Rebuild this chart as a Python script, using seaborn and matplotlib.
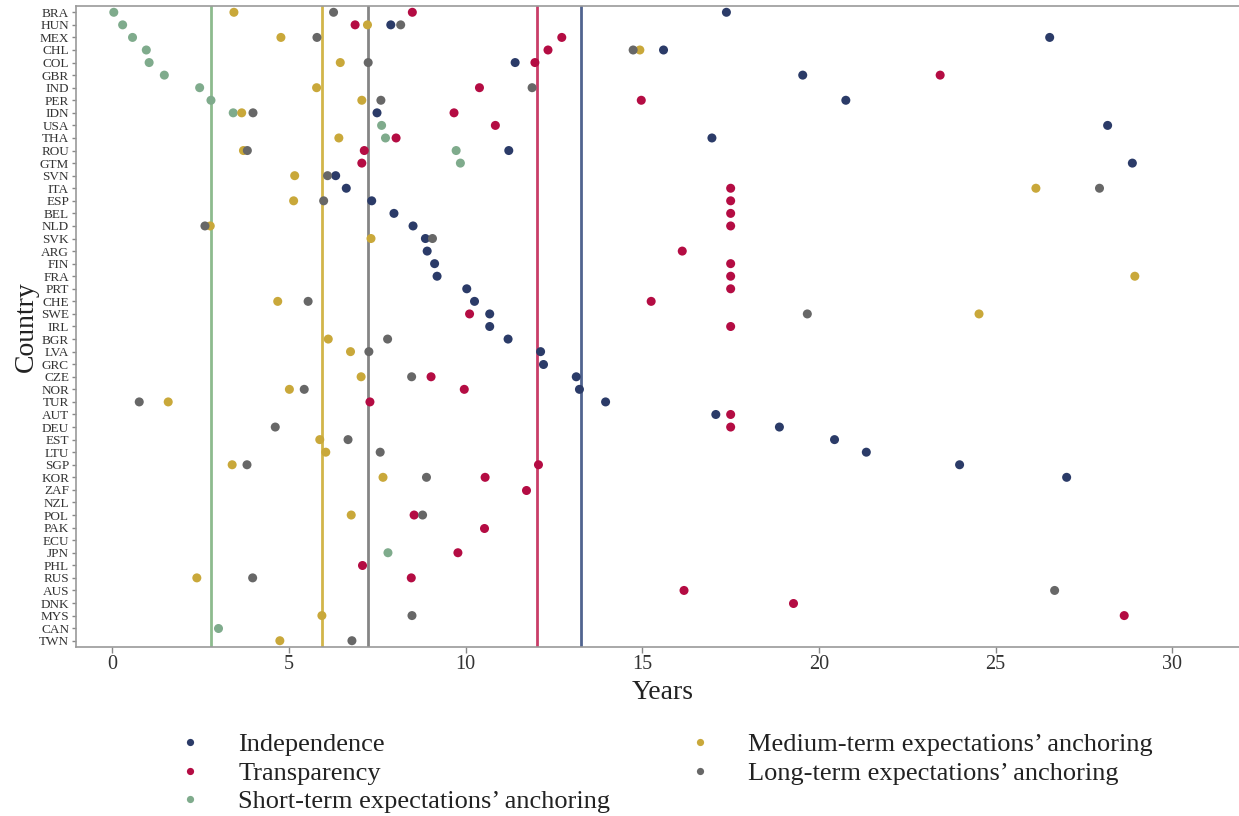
import numpy as np
import pandas as pd
import matplotlib
matplotlib.use("Agg")
import matplotlib.pyplot as plt
import seaborn as sns

nan = np.nan

countries = ["BRA", "HUN", "MEX", "CHL", "COL", "GBR", "IND", "PER", "IDN", "USA",
             "THA", "ROU", "GTM", "SVN", "ITA", "ESP", "BEL", "NLD", "SVK", "ARG",
             "FIN", "FRA", "PRT", "CHE", "SWE", "IRL", "BGR", "LVA", "GRC", "CZE",
             "NOR", "TUR", "AUT", "DEU", "EST", "LTU", "SGP", "KOR", "ZAF", "NZL",
             "POL", "PAK", "ECU", "JPN", "PHL", "RUS", "AUS", "DNK", "MYS", "CAN",
             "TWN"]

independence = [17.38, 7.88, 26.53, 15.60, 11.40, 19.54, nan, 20.76, 7.49, 28.17,
                16.97, 11.22, 28.87, 6.32, 6.62, 7.34, 7.97, 8.51, 8.86, 8.91,
                9.12, 9.19, 10.03, 10.25, 10.68, 10.68, 11.20, 12.12, 12.20, 13.13,
                13.22, 13.96, 17.08, 18.88, 20.44, 21.34, 23.98, 27.01, nan, nan,
                nan, nan, nan, nan, nan, nan, nan, nan, nan, nan,
                nan]

transparency = [8.49, 6.87, 12.72, 12.33, 11.96, 23.43, 10.39, 14.97, 9.67, 10.84,
                8.03, 7.13, 7.06, nan, 17.5, 17.5, 17.5, 17.5, nan, 16.13,
                17.5, 17.5, 17.5, 15.25, 10.11, 17.5, nan, nan, nan, 9.02,
                9.96, 7.29, 17.5, 17.5, nan, nan, 12.06, 10.55, 11.71, nan,
                8.54, 10.51, nan, 9.78, 7.07, 8.46, 16.18, 19.27, 28.64, nan,
                nan]

short_term = [0.04, 0.29, 0.57, 0.96, 1.04, 1.47, 2.47, 2.79, 3.42, 7.62,
              7.73, 9.73, 9.85, nan, nan, nan, nan, nan, nan, nan,
              nan, nan, nan, nan, nan, nan, nan, nan, nan, nan,
              nan, nan, nan, nan, nan, nan, nan, nan, nan, nan,
              nan, nan, nan, 7.80, nan, nan, nan, nan, nan, 2.99,
              nan]

medium_term = [3.44, 7.22, 4.77, 14.93, 6.45, nan, 5.78, 7.06, 3.66, nan,
               6.41, 3.71, nan, 5.16, 26.14, 5.13, nan, 2.77, 7.32, nan,
               nan, 28.94, nan, 4.68, 24.53, nan, 6.11, 6.74, nan, 7.04,
               5.01, 1.58, nan, nan, 5.87, 6.04, 3.39, 7.66, nan, nan,
               6.76, nan, nan, nan, nan, 2.39, nan, nan, 5.93, nan,
               4.74]

long_term = [6.26, 8.16, 5.79, 14.74, 7.24, nan, 11.88, 7.60, 3.98, nan,
             nan, 3.82, nan, 6.09, 27.94, 5.98, nan, 2.62, 9.06, nan,
             nan, nan, nan, 5.54, 19.67, nan, 7.79, 7.26, nan, 8.47,
             5.43, 0.76, nan, 4.61, 6.67, 7.58, 3.81, 8.89, nan, nan,
             8.78, nan, nan, nan, nan, 3.97, 26.67, nan, 8.48, nan,
             6.78]

series_names = ["Independence", "Transparency",
                "Short-term expectations\u2019 anchoring",
                "Medium-term expectations\u2019 anchoring",
                "Long-term expectations\u2019 anchoring"]

# median years per indicator (vertical reference lines)
median_years = [13.25, 12.02, 2.79, 5.93, 7.24]

dot_colors = ["#2b3b68", "#b40c43", "#7fab8c", "#c9a83a", "#676767"]
line_colors = ["#50648f", "#c93d68", "#8dbb8e", "#d2b54a", "#858585"]

series_values = [independence, transparency, short_term, medium_term, long_term]

frames = []
for name, vals in zip(series_names, series_values):
    frames.append(pd.DataFrame({"Country": countries, "Years": vals, "Indicator": name}))
df = pd.concat(frames, ignore_index=True).dropna(subset=["Years"])

sns.set_style("white")
plt.rcParams["font.family"] = ["Liberation Serif", "DejaVu Serif"]

fig = plt.figure(figsize=(12.39, 8.16), dpi=100)
ax = fig.add_axes([76 / 1239, 169 / 816, 1174 / 1239, 641 / 816])

for x, c in zip(median_years, line_colors):
    ax.axvline(x, color=c, linewidth=2.0, zorder=1)

sns.stripplot(data=df, x="Years", y="Country", hue="Indicator",
              order=countries, hue_order=series_names, palette=dot_colors,
              jitter=False, dodge=False, size=6.5, linewidth=0, ax=ax, zorder=3)

ax.set_xlim(-1.03, 32.2)
ax.set_ylim(len(countries) - 0.5, -0.5)
ax.set_xticks([0, 5, 10, 15, 20, 25, 30])
ax.tick_params(axis="x", labelsize=14.5, bottom=True, direction="out",
               length=4, width=1, color="#888888", labelcolor="#333333", pad=2)
ax.tick_params(axis="y", labelsize=9.5, left=True, direction="out",
               length=3, width=1, color="#888888", labelcolor="#333333", pad=2)
ax.set_xlabel("Years", fontsize=20, color="#222222", labelpad=4)
ax.set_ylabel("Country", fontsize=20, color="#222222", labelpad=0)

for side in ["left", "right", "top", "bottom"]:
    ax.spines[side].set_visible(True)
    ax.spines[side].set_color("#9a9a9a")
    ax.spines[side].set_linewidth(1.2)

handles, labels = ax.get_legend_handles_labels()
if ax.get_legend() is not None:
    ax.get_legend().remove()
fig.legend(handles, labels, ncol=2, loc="upper left",
           bbox_to_anchor=(177 / 1239, 1 - 733 / 816), frameon=False,
           fontsize=19, handlelength=1.0, handletextpad=1.33,
           columnspacing=2.88, labelspacing=0.19, borderpad=0,
           borderaxespad=0, markerscale=0.8, labelcolor="#222222")

fig.savefig("out.png", dpi=100)
